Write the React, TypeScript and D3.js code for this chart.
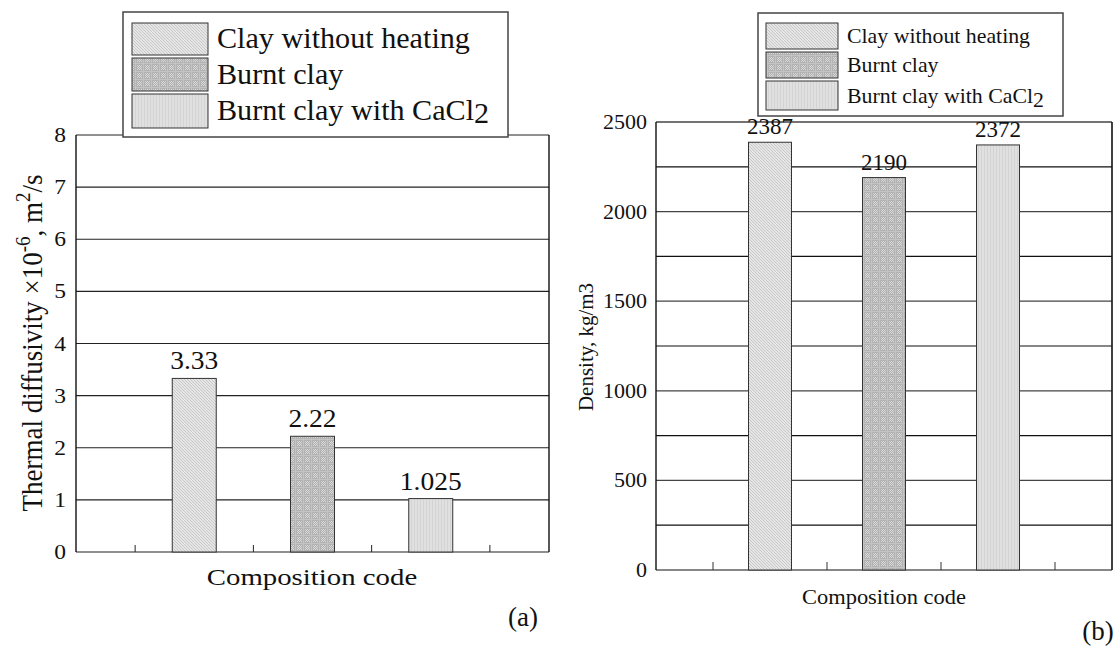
import React from "react";
import * as d3 from "d3";

// Series shown in both panels
const categories = ["Clay without heating", "Burnt clay", "Burnt clay with CaCl2"];
const diffusivity = [3.33, 2.22, 1.025];
const diffusivityLabels = ["3.33", "2.22", "1.025"];
const density = [2387, 2190, 2372];
const densityLabels = ["2387", "2190", "2372"];

const diffTicks = [0, 1, 2, 3, 4, 5, 6, 7, 8];
const densityGrid = [0, 250, 500, 750, 1000, 1250, 1500, 1750, 2000, 2250, 2500];
const densityTicks = [0, 500, 1000, 1500, 2000, 2500];
const categoryTicks = [0.5, 1.5, 2.5, 3.5];

const FONT = "'Liberation Serif', 'Times New Roman', serif";
const fills = ["url(#patDiag)", "url(#patCheck)", "url(#patVert)"];

type STextProps = {
  x: number;
  y: number;
  sx?: number;
  size: number;
  anchor?: "start" | "middle" | "end";
  children: React.ReactNode;
};

// Text that may be stretched horizontally around its anchor point
function SText({ x, y, sx = 1, size, anchor = "start", children }: STextProps) {
  return (
    <text
      transform={`translate(${x},${y}) scale(${sx},1)`}
      fontFamily={FONT}
      fontSize={size}
      textAnchor={anchor}
      fill="#111"
    >
      {children}
    </text>
  );
}

function Patterns() {
  return (
    <defs>
      <pattern id="patDiag" width="3" height="3" patternUnits="userSpaceOnUse">
        <rect width="3" height="3" fill="#e6e6e6" />
        <path d="M0,0 L3,3 M-1,2 L1,4 M2,-1 L4,1" stroke="#b4b4b4" strokeWidth="0.6" />
      </pattern>
      <pattern id="patCheck" width="8" height="8" patternUnits="userSpaceOnUse">
        <rect width="8" height="8" fill="#b2b2b2" />
        <rect x="1" y="1" width="1" height="1" fill="#d8d8d8" />
        <rect x="3" y="1" width="1" height="1" fill="#d8d8d8" />
        <rect x="5" y="1" width="1" height="1" fill="#d8d8d8" />
        <rect x="2" y="2" width="1" height="1" fill="#d8d8d8" />
        <rect x="4" y="2" width="1" height="1" fill="#d8d8d8" />
        <rect x="1" y="3" width="1" height="1" fill="#d8d8d8" />
        <rect x="3" y="3" width="1" height="1" fill="#d8d8d8" />
        <rect x="5" y="3" width="1" height="1" fill="#d8d8d8" />
        <rect x="2" y="4" width="1" height="1" fill="#d8d8d8" />
        <rect x="4" y="4" width="1" height="1" fill="#d8d8d8" />
        <rect x="1" y="5" width="1" height="1" fill="#d8d8d8" />
        <rect x="3" y="5" width="1" height="1" fill="#d8d8d8" />
        <rect x="5" y="5" width="1" height="1" fill="#d8d8d8" />
        <rect x="0" y="7" width="8" height="1" fill="#c4c4c4" />
        <rect x="7" y="0" width="1" height="8" fill="#c4c4c4" />
      </pattern>
      <pattern id="patVert" width="3" height="3" patternUnits="userSpaceOnUse">
        <rect width="3" height="3" fill="#e0e0e0" />
        <rect x="0" y="0" width="1" height="3" fill="#d4d4d4" />
      </pattern>
    </defs>
  );
}

function PanelA() {
  const x = d3.scaleLinear().domain([0, 4]).range([76, 549]);
  const y = d3.scaleLinear().domain([0, 8]).range([552, 135]);
  const bw = 0.372;
  return (
    <g>
      {diffTicks.map((t) => (
        <line key={t} x1={x(0)} x2={x(4)} y1={y(t)} y2={y(t)} stroke="#222" strokeWidth={1.2} />
      ))}
      <line x1={x(0)} x2={x(0)} y1={y(0)} y2={y(8)} stroke="#111" strokeWidth={1.4} />
      <line x1={x(4)} x2={x(4)} y1={y(0)} y2={y(8)} stroke="#111" strokeWidth={1.4} />
      {categoryTicks.map((t) => (
        <line key={t} x1={x(t)} x2={x(t)} y1={y(0)} y2={y(0) - 7} stroke="#222" strokeWidth={1} />
      ))}
      {diffusivity.map((v, i) => (
        <g key={i}>
          <rect
            x={x(i + 1 - bw / 2)}
            y={y(v)}
            width={x(bw) - x(0)}
            height={y(0) - y(v)}
            fill={fills[i]}
            stroke="#333"
            strokeWidth={1}
          />
          <SText x={x(i + 1)} y={y(v) - 9} size={25} sx={1.1} anchor="middle">
            {diffusivityLabels[i]}
          </SText>
        </g>
      ))}
      {diffTicks.map((t) => (
        <SText key={t} x={66} y={y(t) + 7} size={21} sx={1.12} anchor="end">
          {t}
        </SText>
      ))}
      <text
        transform={`translate(42,343) scale(1.12,1) rotate(-90)`}
        fontFamily={FONT}
        fontSize={27}
        textAnchor="middle"
        fill="#111"
      >
        Thermal diffusivity ×10
        <tspan fontSize={19} dy={-11}>-6</tspan>
        <tspan dy={11}>, m</tspan>
        <tspan fontSize={19} dy={-11}>2</tspan>
        <tspan dy={11}>/s</tspan>
      </text>
      <SText x={312} y={585} size={24} sx={1.2} anchor="middle">
        Composition code
      </SText>
      <SText x={523} y={626} size={27} anchor="middle">
        (a)
      </SText>
      {/* legend */}
      <rect x={123} y={12} width={385} height={125} fill="#fff" stroke="#444" strokeWidth={1.5} />
      {categories.map((c, i) => {
        const top = [23, 58, 94][i];
        const h = [32, 33, 34][i];
        return (
          <g key={c}>
            <rect x={132} y={top} width={76} height={h} fill={fills[i]} stroke="#333" strokeWidth={1} />
            <SText x={217} y={top + h / 2 + 9} size={29} sx={1.04}>
              {c.endsWith("CaCl2") ? (
                <>
                  {c.slice(0, -1)}
                  <tspan dy={3}>2</tspan>
                </>
              ) : (
                c
              )}
            </SText>
          </g>
        );
      })}
    </g>
  );
}

function PanelB() {
  const x = d3.scaleLinear().domain([0, 4]).range([656, 1112]);
  const y = d3.scaleLinear().domain([0, 2500]).range([570, 122]);
  const bw = 0.377;
  return (
    <g>
      {densityGrid.map((t) => (
        <line
          key={t}
          x1={x(0)}
          x2={x(4)}
          y1={y(t)}
          y2={y(t)}
          stroke={t % 500 === 0 && t > 0 ? "#444" : "#111"}
          strokeWidth={t === 2500 ? 1.6 : 1.2}
        />
      ))}
      <line x1={x(0)} x2={x(0)} y1={y(0)} y2={y(2500)} stroke="#111" strokeWidth={1.4} />
      <line x1={x(4)} x2={x(4)} y1={y(0)} y2={y(2500)} stroke="#111" strokeWidth={1.6} />
      {categoryTicks.map((t) => (
        <line key={t} x1={x(t)} x2={x(t)} y1={y(0)} y2={y(0) - 8} stroke="#333" strokeWidth={1} />
      ))}
      {density.map((v, i) => (
        <g key={i}>
          <rect
            x={x(i + 1 - bw / 2)}
            y={y(v)}
            width={x(bw) - x(0)}
            height={y(0) - y(v)}
            fill={fills[i]}
            stroke="#333"
            strokeWidth={1}
          />
          <SText x={x(i + 1)} y={y(v) - 8} size={23} anchor="middle">
            {densityLabels[i]}
          </SText>
        </g>
      ))}
      {densityTicks.map((t) => (
        <SText key={t} x={647} y={y(t) + 7} size={22} anchor="end">
          {t}
        </SText>
      ))}
      <text
        transform={`translate(593,347) rotate(-90)`}
        fontFamily={FONT}
        fontSize={21}
        textAnchor="middle"
        fill="#111"
      >
        Density, kg/m3
      </text>
      <SText x={884} y={604} size={22} sx={1.02} anchor="middle">
        Composition code
      </SText>
      <SText x={1098} y={640} size={27} anchor="middle">
        (b)
      </SText>
      {/* legend */}
      <rect x={758} y={13} width={305} height={103} fill="#fff" stroke="#444" strokeWidth={1.5} />
      {categories.map((c, i) => {
        const top = [23, 52, 81][i];
        const h = [26, 26, 29][i];
        return (
          <g key={c}>
            <rect x={766} y={top} width={72} height={h} fill={fills[i]} stroke="#333" strokeWidth={1} />
            <SText x={847} y={top + h / 2 + 7} size={21} sx={1.04}>
              {c.endsWith("CaCl2") ? (
                <>
                  {c.slice(0, -1)}
                  <tspan dy={4}>2</tspan>
                </>
              ) : (
                c
              )}
            </SText>
          </g>
        );
      })}
    </g>
  );
}

export default function App() {
  return (
    <svg
      width={1115}
      height={648}
      style={{ position: "absolute", left: 0, top: 0, background: "#fff" }}
    >
      <Patterns />
      <rect width={1115} height={648} fill="#fff" />
      <PanelA />
      <PanelB />
    </svg>
  );
}
